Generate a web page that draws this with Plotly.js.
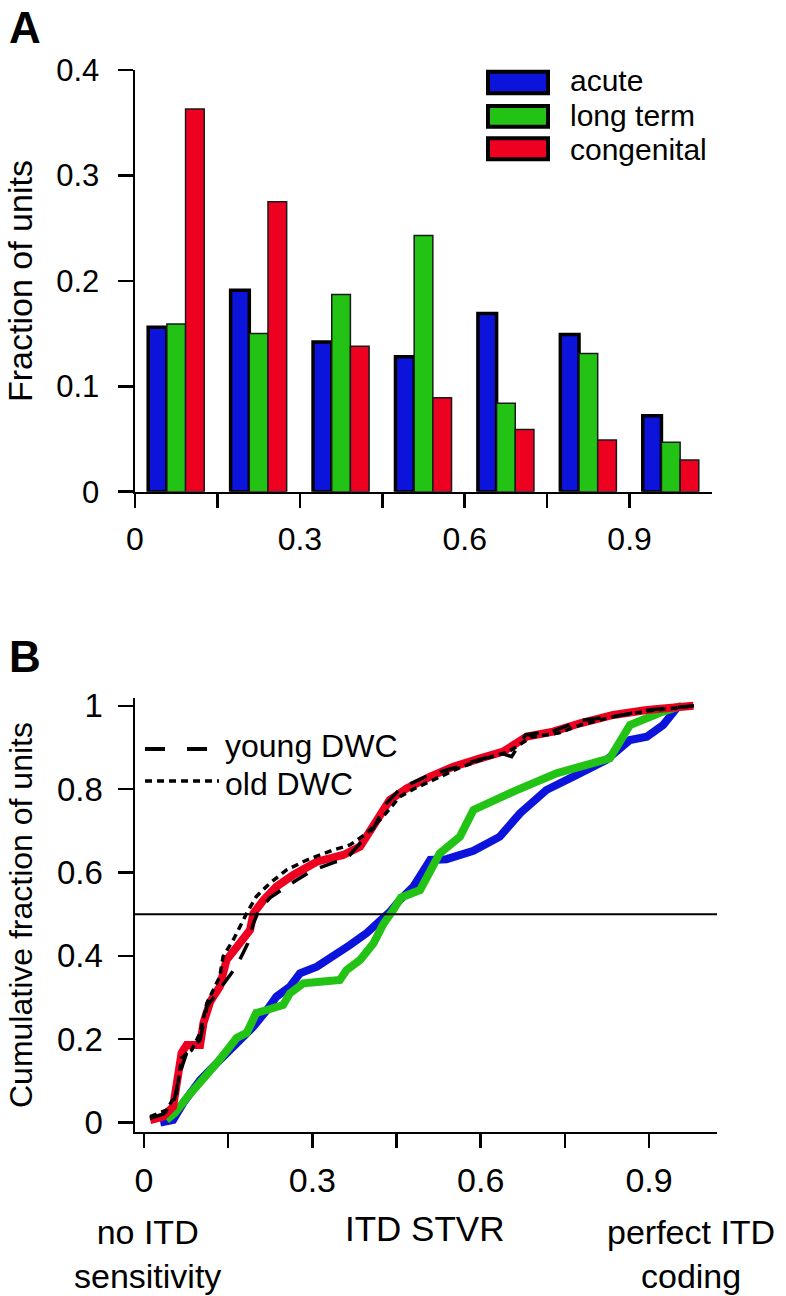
<!DOCTYPE html>
<html>
<head>
<meta charset="utf-8">
<script src="https://cdn.plot.ly/plotly-3.0.1.min.js"></script>
<style>
html,body{margin:0;padding:0;background:#fff;}
#chart{width:786px;height:1296px;}
</style>
</head>
<body>
<div id="chart"></div>
<script>
// ---------- Panel A : histogram of ITD STVR ----------
var binCenters = [0.075, 0.225, 0.375, 0.525, 0.675, 0.825, 0.975];
var acuteFrac      = [0.156, 0.191, 0.142, 0.128, 0.169, 0.149, 0.072];
var longTermFrac   = [0.159, 0.150, 0.187, 0.243, 0.084, 0.131, 0.047];
var congenitalFrac = [0.363, 0.275, 0.138, 0.089, 0.059, 0.049, 0.030];
var seriesNames = ['acute', 'long term', 'congenital'];

var topYTicks = [0, 0.1, 0.2, 0.3, 0.4];
var topYTickText = ['0', '0.1', '0.2', '0.3', '0.4'];
var xTicks = [0, 0.15, 0.3, 0.45, 0.6, 0.75, 0.9];
var xTickText = ['0', '', '0.3', '', '0.6', '', '0.9'];

// ---------- Panel B : cumulative distributions ----------
var acuteX = [0.029,0.052,0.07,0.1,0.13,0.159,0.195,0.219,0.236,0.26,0.278,0.308,0.337,0.367,0.397,0.42,0.438,0.456,0.48,0.51,0.539,0.587,0.634,0.67,0.717,0.765,0.824,0.866,0.896,0.925,0.949];
var acuteY = [0,0.006,0.047,0.102,0.143,0.182,0.23,0.27,0.302,0.326,0.358,0.374,0.398,0.426,0.455,0.48,0.505,0.534,0.566,0.63,0.632,0.652,0.686,0.742,0.798,0.83,0.87,0.918,0.926,0.954,0.994];

var longTermX = [0.04,0.055,0.076,0.106,0.13,0.153,0.165,0.183,0.2,0.219,0.248,0.26,0.284,0.314,0.349,0.361,0.385,0.409,0.426,0.444,0.458,0.492,0.527,0.563,0.587,0.658,0.735,0.83,0.866,0.925,0.958];
var longTermY = [0.006,0.023,0.059,0.102,0.143,0.182,0.203,0.215,0.263,0.27,0.282,0.31,0.334,0.338,0.342,0.366,0.39,0.43,0.475,0.51,0.54,0.558,0.646,0.686,0.75,0.794,0.838,0.874,0.954,0.986,1.0];

var congenitalX = [0.011,0.034,0.052,0.067,0.076,0.1,0.106,0.118,0.135,0.147,0.171,0.189,0.195,0.213,0.236,0.266,0.308,0.337,0.355,0.385,0.403,0.42,0.438,0.456,0.468,0.51,0.551,0.599,0.64,0.682,0.729,0.777,0.836,0.896,0.943,0.979];
var congenitalY = [0.006,0.014,0.038,0.167,0.186,0.186,0.239,0.29,0.326,0.39,0.431,0.462,0.502,0.534,0.566,0.594,0.626,0.638,0.642,0.662,0.698,0.735,0.774,0.79,0.802,0.83,0.854,0.874,0.89,0.926,0.938,0.958,0.978,0.99,0.994,1.0];

var youngX = [0.011,0.034,0.052,0.064,0.076,0.1,0.112,0.135,0.15,0.165,0.185,0.195,0.205,0.225,0.27,0.3,0.34,0.36,0.385,0.409,0.432,0.456,0.47,0.51,0.55,0.6,0.64,0.655,0.68,0.73,0.78,0.84,0.9,0.98];
var youngY = [0.01,0.02,0.04,0.119,0.167,0.198,0.278,0.32,0.35,0.375,0.43,0.478,0.51,0.54,0.58,0.605,0.625,0.632,0.67,0.706,0.766,0.8,0.81,0.835,0.85,0.872,0.885,0.878,0.93,0.94,0.965,0.975,0.99,1.0];

var oldX = [0.011,0.04,0.058,0.067,0.085,0.1,0.112,0.135,0.141,0.159,0.171,0.183,0.2,0.224,0.254,0.29,0.337,0.367,0.397,0.426,0.456,0.48,0.52,0.56,0.6,0.65,0.69,0.74,0.78,0.84,0.9,0.97];
var oldY = [0.014,0.03,0.07,0.155,0.174,0.215,0.286,0.35,0.398,0.438,0.47,0.502,0.542,0.574,0.606,0.63,0.654,0.666,0.694,0.734,0.782,0.8,0.825,0.85,0.87,0.89,0.925,0.935,0.955,0.975,0.988,0.998];

var medianLevel = 0.5;
var botYTicks = [0, 0.2, 0.4, 0.6, 0.8, 1];
var botYTickText = ['0', '0.2', '0.4', '0.6', '0.8', '1'];
var dwcNames = ['young DWC', 'old DWC'];

// ---------- styles ----------
var W = 786, H = 1296;
var FONT = 'Liberation Sans, Arial, Helvetica, sans-serif';
var BLUE = '#0c14dc', GREEN = '#22c314', RED = '#ee0020';
function px(x){ return x / W; }
function py(y){ return 1 - y / H; }

var traces = [
  {type:'bar', x:binCenters, y:acuteFrac, name:seriesNames[0], xaxis:'x', yaxis:'y',
   marker:{color:BLUE, line:{color:'#000', width:3.5}}},
  {type:'bar', x:binCenters, y:longTermFrac, name:seriesNames[1], xaxis:'x', yaxis:'y',
   marker:{color:GREEN, line:{color:'#1a1a1a', width:1.5}}},
  {type:'bar', x:binCenters, y:congenitalFrac, name:seriesNames[2], xaxis:'x', yaxis:'y',
   marker:{color:RED, line:{color:'#1a1a1a', width:1.5}}},

  {type:'scatter', mode:'lines', x:acuteX, y:acuteY, xaxis:'x2', yaxis:'y2',
   line:{color:BLUE, width:8}},
  {type:'scatter', mode:'lines', x:longTermX, y:longTermY, xaxis:'x2', yaxis:'y2',
   line:{color:GREEN, width:8}},
  {type:'scatter', mode:'lines', x:congenitalX, y:congenitalY, xaxis:'x2', yaxis:'y2',
   line:{color:RED, width:8}},
  {type:'scatter', mode:'lines', x:youngX, y:youngY, xaxis:'x2', yaxis:'y2',
   line:{color:'#000', width:3.5, dash:'18px,14px'}},
  {type:'scatter', mode:'lines', x:oldX, y:oldY, xaxis:'x2', yaxis:'y2',
   line:{color:'#000', width:3.5, dash:'7px,5px'}}
];

var axisCommon = {
  showgrid:false, zeroline:false, showline:true, linecolor:'#000', linewidth:2.5,
  ticks:'outside', tickcolor:'#000', tickwidth:2.5, fixedrange:true
};

var layout = {
  width:W, height:H, margin:{l:0,r:0,t:0,b:0},
  paper_bgcolor:'#fff', plot_bgcolor:'rgba(0,0,0,0)',
  showlegend:false, barmode:'group', bargap:0.32, bargroupgap:0,
  font:{family:FONT, color:'#000'},
  xaxis: Object.assign({}, axisCommon, {
    domain:[px(135), px(712)], range:[0, 1.05], anchor:'y',
    tickvals:xTicks, ticktext:xTickText, ticklen:14, ticklabelstandoff:3,
    tickfont:{family:FONT, size:32, color:'#000'}
  }),
  yaxis: Object.assign({}, axisCommon, {
    domain:[py(491.7), py(70)], range:[0, 0.4], anchor:'x',
    tickvals:topYTicks, ticktext:topYTickText, ticklen:15, ticklabelstandoff:12,
    tickfont:{family:FONT, size:31, color:'#000'}
  }),
  xaxis2: Object.assign({}, axisCommon, {
    domain:[px(135), px(717)], range:[-0.016, 1.021], anchor:'y2',
    tickvals:xTicks, ticktext:xTickText, ticklen:14, ticklabelstandoff:3,
    tickfont:{family:FONT, size:34, color:'#000'}
  }),
  yaxis2: Object.assign({}, axisCommon, {
    domain:[py(1131.7), py(698.3)], range:[-0.022, 1.018], anchor:'x2',
    tickvals:botYTicks, ticktext:botYTickText, ticklen:15, ticklabelstandoff:8,
    tickfont:{family:FONT, size:33, color:'#000'}
  }),
  shapes:[
    // median reference line
    {type:'line', xref:'x2 domain', yref:'y2', x0:0, x1:1, y0:medianLevel, y1:medianLevel,
     line:{color:'#000', width:2}},
    // legend A boxes
    {type:'rect', xref:'paper', yref:'paper', x0:px(488), x1:px(548), y0:py(93.3), y1:py(71.7),
     fillcolor:BLUE, line:{color:'#000', width:4}},
    {type:'rect', xref:'paper', yref:'paper', x0:px(488), x1:px(548), y0:py(126.7), y1:py(106),
     fillcolor:GREEN, line:{color:'#000', width:4}},
    {type:'rect', xref:'paper', yref:'paper', x0:px(488), x1:px(548), y0:py(159.3), y1:py(138.3),
     fillcolor:RED, line:{color:'#000', width:4}},
    // legend B lines
    {type:'line', xref:'paper', yref:'paper', x0:px(145), x1:px(210), y0:py(749), y1:py(749),
     line:{color:'#000', width:4, dash:'20px,22px'}},
    {type:'line', xref:'paper', yref:'paper', x0:px(145), x1:px(219), y0:py(781), y1:py(781),
     line:{color:'#000', width:3.5, dash:'7px,5px'}}
  ],
  annotations:[
    {text:'<b>A</b>', xref:'paper', yref:'paper', x:px(7), y:py(27), xanchor:'left', yanchor:'middle',
     showarrow:false, font:{family:FONT, size:44, color:'#000'}},
    {text:'<b>B</b>', xref:'paper', yref:'paper', x:px(7), y:py(656), xanchor:'left', yanchor:'middle',
     showarrow:false, font:{family:FONT, size:44, color:'#000'}},
    {text:'Fraction of units', xref:'paper', yref:'paper', x:px(20), y:py(281), xanchor:'center', yanchor:'middle',
     textangle:-90, showarrow:false, font:{family:FONT, size:34, color:'#000'}},
    {text:'Cumulative fraction of units', xref:'paper', yref:'paper', x:px(21), y:py(915), xanchor:'center', yanchor:'middle',
     textangle:-90, showarrow:false, font:{family:FONT, size:32, color:'#000'}},
    {text:seriesNames[0], xref:'paper', yref:'paper', x:px(568), y:py(80), xanchor:'left', yanchor:'middle',
     showarrow:false, font:{family:FONT, size:30, color:'#000'}},
    {text:seriesNames[1], xref:'paper', yref:'paper', x:px(568), y:py(115), xanchor:'left', yanchor:'middle',
     showarrow:false, font:{family:FONT, size:30, color:'#000'}},
    {text:seriesNames[2], xref:'paper', yref:'paper', x:px(568), y:py(150), xanchor:'left', yanchor:'middle',
     showarrow:false, font:{family:FONT, size:30, color:'#000'}},
    {text:dwcNames[0], xref:'paper', yref:'paper', x:px(223), y:py(746), xanchor:'left', yanchor:'middle',
     showarrow:false, font:{family:FONT, size:32, color:'#000'}},
    {text:dwcNames[1], xref:'paper', yref:'paper', x:px(223), y:py(784), xanchor:'left', yanchor:'middle',
     showarrow:false, font:{family:FONT, size:32, color:'#000'}},
    {text:'ITD STVR', xref:'paper', yref:'paper', x:px(424), y:py(1228), xanchor:'center', yanchor:'middle',
     showarrow:false, font:{family:FONT, size:35, color:'#000'}},
    {text:'no ITD<br>sensitivity', xref:'paper', yref:'paper', x:px(147), y:py(1254), xanchor:'center', yanchor:'middle',
     showarrow:false, font:{family:FONT, size:34, color:'#000'}},
    {text:'perfect ITD<br>coding', xref:'paper', yref:'paper', x:px(691), y:py(1254), xanchor:'center', yanchor:'middle',
     showarrow:false, font:{family:FONT, size:34, color:'#000'}}
  ]
};

Plotly.newPlot('chart', traces, layout, {staticPlot:true, displayModeBar:false});
</script>
</body>
</html>
